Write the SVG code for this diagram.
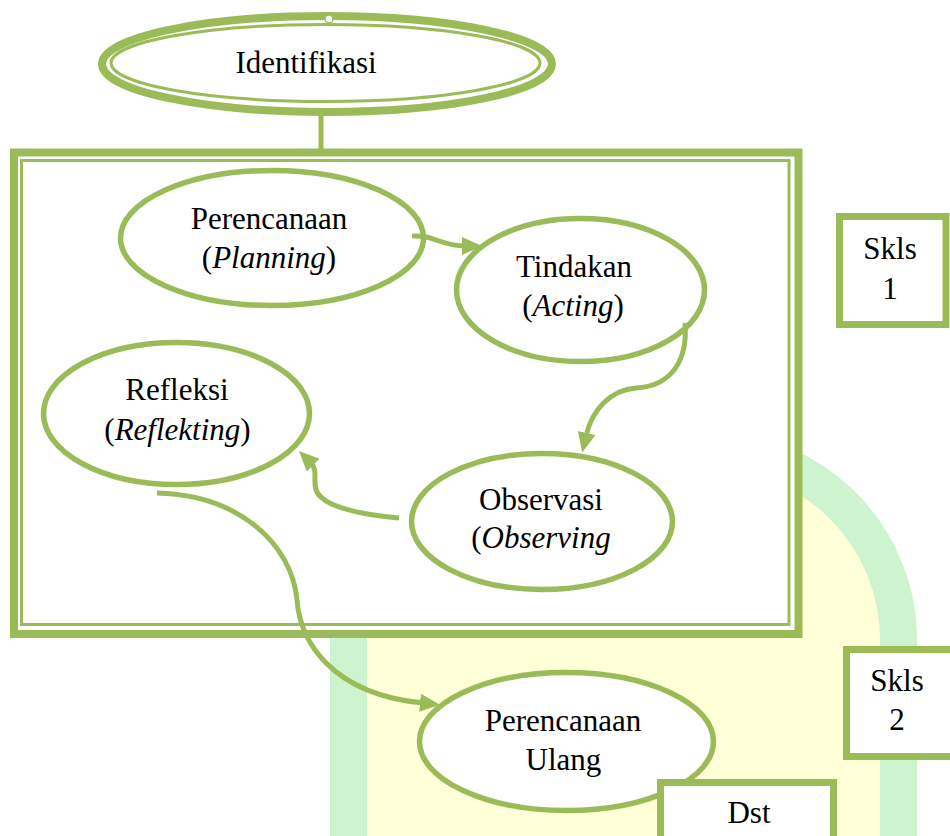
<svg xmlns="http://www.w3.org/2000/svg" width="950" height="836" viewBox="0 0 950 836">
<style>
  .t{font-family:"Liberation Serif","Times New Roman",serif;font-size:31px;fill:#000;text-anchor:middle}
  .it{font-style:italic}
  .node{fill:#fff;stroke:#9bbb59;stroke-width:5.5}
  .box{fill:#fff;stroke:#9bbb59;stroke-width:7}
  .conn{fill:none;stroke:#9bbb59;stroke-width:5}
</style>
<defs>
  <marker id="arr" viewBox="0 0 20 18" markerWidth="20" markerHeight="18" refX="3" refY="9" orient="auto" markerUnits="userSpaceOnUse">
    <path d="M0,0 L20,9 L0,18 z" fill="#9bbb59"/>
  </marker>
</defs>
<rect width="950" height="836" fill="#fff"/>
<g id="watermark">
  <path d="M348.5,836 V640 A190,190 0 0 1 538.5,450 H708.5 A190,190 0 0 1 898.5,640 V836 Z" fill="#ffffd8" stroke="none"/>
  <path d="M348.5,836 V640 A190,190 0 0 1 538.5,450 H708.5 A190,190 0 0 1 898.5,640 V836" fill="none" stroke="#cdf3cf" stroke-width="37"/>
</g>
<g id="identifikasi">
  <ellipse cx="327" cy="64" rx="225" ry="48" fill="#fff" stroke="#9bbb59" stroke-width="8"/>
  <ellipse cx="325.5" cy="63" rx="214.5" ry="38.5" fill="none" stroke="#9bbb59" stroke-width="3"/>
  <circle cx="329" cy="19" r="4" fill="#fff" stroke="#9bbb59" stroke-width="1.5"/>
  <text class="t" x="306" y="73">Identifikasi</text>
</g>
<g id="siklus1-frame">
  <rect x="14" y="152.5" width="784.5" height="481.5" fill="#fff" stroke="#9bbb59" stroke-width="8"/>
  <rect x="21.5" y="160.5" width="767.5" height="464" fill="none" stroke="#9bbb59" stroke-width="3"/>
</g>
<g id="perencanaan">
  <ellipse class="node" cx="272" cy="238" rx="151.5" ry="67.5"/>
  <text class="t" x="269" y="229">Perencanaan</text>
  <text class="t" x="269" y="268">(<tspan class="it">Planning</tspan>)</text>
</g>
<g id="tindakan">
  <ellipse class="node" cx="580.5" cy="290" rx="124" ry="71.5"/>
  <text class="t" x="574" y="277">Tindakan</text>
  <text class="t" x="573" y="316">(<tspan class="it">Acting</tspan>)</text>
</g>
<g id="refleksi">
  <ellipse class="node" cx="176.5" cy="413.5" rx="133" ry="71"/>
  <text class="t" x="177" y="400">Refleksi</text>
  <text class="t" x="177.5" y="440">(<tspan class="it">Reflekting</tspan>)</text>
</g>
<g id="observasi">
  <ellipse class="node" cx="542" cy="521.5" rx="130.5" ry="68"/>
  <text class="t" x="541" y="510">Observasi</text>
  <text class="t" x="541" y="548">(<tspan class="it">Observing</tspan></text>
</g>
<g id="perencanaan-ulang">
  <ellipse class="node" cx="566.5" cy="741.5" rx="147" ry="69"/>
  <text class="t" x="563" y="731">Perencanaan</text>
  <text class="t" x="563.5" y="770">Ulang</text>
</g>
<g id="skls1">
  <rect class="box" x="839.5" y="216.5" width="106.5" height="108"/>
  <text class="t" x="890" y="259">Skls</text>
  <text class="t" x="890" y="299">1</text>
</g>
<g id="skls2">
  <rect class="box" x="846.5" y="649.5" width="110" height="107"/>
  <text class="t" x="897" y="691">Skls</text>
  <text class="t" x="897" y="730">2</text>
</g>
<g id="dst">
  <rect class="box" x="660.5" y="782.5" width="173" height="70"/>
  <text class="t" x="749" y="823">Dst</text>
</g>
<g id="connectors">
  <line class="conn" x1="321" y1="112" x2="321" y2="149"/>
  <path class="conn" d="M412,236 C436,235 440,246 465,246" marker-end="url(#arr)"/>
  <path class="conn" d="M685,323 C688,360 672,386 636,388 C610,390 592,410 586,436" marker-end="url(#arr)"/>
  <path class="conn" d="M399,518 C355,514 322,506 316,490 C313,480 318,470 311,463" marker-end="url(#arr)"/>
  <path class="conn" d="M157,493 C240,495 292,545 297,600 C300,640 330,694 423,703" marker-end="url(#arr)"/>
</g>
</svg>
